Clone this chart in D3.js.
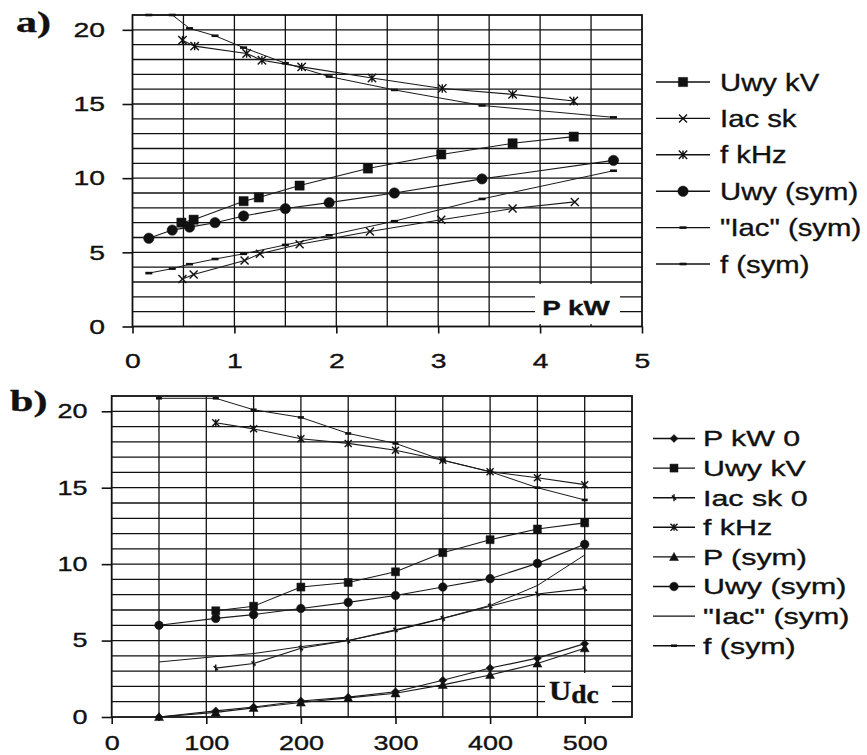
<!DOCTYPE html>
<html>
<head>
<meta charset="utf-8">
<script src="https://cdn.jsdelivr.net/npm/d3@7"></script>
<style>
  body { margin: 0; background: #fff; }
  svg { display: block; }
  text { font-family: "Liberation Sans", Arial, sans-serif; fill: #111; stroke: #111; stroke-width: 0.35; }
  text.serif { font-family: "Liberation Serif", "Times New Roman", serif; font-weight: bold; }
</style>
</head>
<body>
<svg id="chart" width="867" height="755"></svg>
<script>
// ---- panel a: x = P kW
const aUwyKvX = [0.48, 0.6, 1.09, 1.24, 1.64, 2.31, 3.03, 3.73, 4.33];
const aUwyKvY = [7.0, 7.2, 8.45, 8.7, 9.5, 10.65, 11.6, 12.35, 12.8];
const aIacSkX = [0.49, 0.6, 1.1, 1.25, 1.64, 2.33, 3.03, 3.73, 4.34];
const aIacSkY = [3.2, 3.5, 4.45, 4.9, 5.55, 6.4, 7.2, 7.95, 8.4];
const aFkHzX = [0.49, 0.61, 1.12, 1.27, 1.66, 2.35, 3.04, 3.73, 4.33];
const aFkHzY = [19.3, 18.9, 18.4, 17.95, 17.5, 16.75, 16.05, 15.65, 15.2];
const aSymX = [0.16, 0.39, 0.56, 0.81, 1.09, 1.5, 1.93, 2.57, 3.43, 4.72];
const aUwySymY = [5.95, 6.5, 6.7, 7.0, 7.45, 7.95, 8.35, 9.0, 9.95, 11.2];
const aIacSymY = [3.6, 3.9, 4.2, 4.55, 4.9, 5.5, 6.15, 7.1, 8.6, 10.5];
const aFSymY = [21, 21, 20.1, 19.6, 18.8, 17.75, 16.85, 15.95, 14.9, 14.1];
const aLegend = ["Uwy kV", "Iac sk", "f kHz", "Uwy (sym)", "\"Iac\" (sym)", "f (sym)"];
const aXTicks = [0, 1, 2, 3, 4, 5];

// ---- panel b: x = Udc
const bSymX = [50, 110, 150, 200, 250, 300, 350, 400, 450, 500];
const bPkw0Y = [0, 0.4, 0.65, 1.05, 1.3, 1.65, 2.4, 3.2, 3.85, 4.8];
const bPSymY = [0, 0.3, 0.6, 0.95, 1.25, 1.55, 2.1, 2.75, 3.5, 4.5];
const bUwySymY = [6.0, 6.45, 6.7, 7.1, 7.5, 7.95, 8.5, 9.05, 10.05, 11.3];
const bIacSymY = [3.6, 3.95, 4.15, 4.6, 5.0, 5.65, 6.45, 7.3, 8.6, 10.6];
const bFSymY = [20.85, 20.85, 20.1, 19.6, 18.55, 17.9, 16.8, 16.05, 15.0, 14.2];
const bMeasX = [110, 150, 200, 250, 300, 350, 400, 450, 500];
const bUwyKvY = [6.95, 7.25, 8.5, 8.8, 9.5, 10.75, 11.6, 12.3, 12.7];
const bIacSk0Y = [3.2, 3.5, 4.5, 5.0, 5.7, 6.45, 7.25, 8.05, 8.4];
const bFkHzY = [19.25, 18.85, 18.2, 17.9, 17.45, 16.8, 16.05, 15.65, 15.2];
const bLegend = ["P kW 0", "Uwy kV", "Iac sk 0", "f kHz", "P (sym)", "Uwy (sym)", "\"Iac\" (sym)", "f (sym)"];
const bXTicks = [0, 100, 200, 300, 400, 500];

const yTicks = [0, 5, 10, 15, 20];

const svg = d3.select("#chart");

// marker shapes, centred on 0,0
function markerPath(type, r) {
  switch (type) {
    case "square": return `M${-r},${-r}h${2 * r}v${2 * r}h${-2 * r}Z`;
    case "circle": return d3.symbol(d3.symbolCircle, Math.PI * r * r)();
    case "diamond": return `M0,${-r}L${r},0L0,${r}L${-r},0Z`;
    case "triangle": return `M0,${-r}L${r},${r * 0.8}L${-r},${r * 0.8}Z`;
    case "x": return `M${-r},${-r}L${r},${r}M${-r},${r}L${r},${-r}`;
    case "star": return `M${-r},${-r}L${r},${r}M${-r},${r}L${r},${-r}M0,${-r}V${r}`;
    case "tick": return `M0,${-r}V${r}M${-r * 0.6},${-r * 0.6}L${r * 0.6},${r * 0.6}`;
    case "dash": return `M${-r},0H${r}`;
  }
  return "";
}
const filled = t => ["square", "circle", "diamond", "triangle"].includes(t);

function drawMarker(g, type, r, cx, cy) {
  if (!type) return;
  g.append("path")
    .attr("d", markerPath(type, r))
    .attr("transform", `translate(${cx},${cy})`)
    .attr("fill", filled(type) ? "#111" : "none")
    .attr("stroke", "#111")
    .attr("stroke-width", type == "dash" ? 2.6 : filled(type) ? 0.5 : 1.4);
}

// stretched text helper (the scanned figure is wider than it is tall)
function sText(g, str, x, y, size, sx, anchor, extra) {
  const t = g.append("text")
    .attr("transform", `translate(${x},${y}) scale(${sx},1)`)
    .attr("font-size", size)
    .attr("text-anchor", anchor || "start")
    .text(str);
  if (extra) extra(t);
  return t;
}

function drawPanel(p) {
  const g = svg.append("g");
  const x = p.x, y = p.y;
  const [x0, x1] = x.range(), [y0, y1] = y.range();

  // grid
  g.selectAll(".vg").data(p.xGrid).join("line")
    .attr("x1", d => x(d)).attr("x2", d => x(d))
    .attr("y1", y0).attr("y2", y1)
    .attr("stroke", "#111").attr("stroke-width", 1.3);
  g.selectAll(".hg").data(d3.range(1, 21)).join("line")
    .attr("x1", x0).attr("x2", x1)
    .attr("y1", d => y(d)).attr("y2", d => y(d))
    .attr("stroke", "#111").attr("stroke-width", 1.3);

  // white label box that cuts the grid
  const bx = p.box;
  g.append("rect").attr("x", bx[0]).attr("y", bx[1]).attr("width", bx[2]).attr("height", bx[3])
    .attr("fill", "#fff");

  g.append("rect")
    .attr("x", x0).attr("y", y1).attr("width", x1 - x0).attr("height", y0 - y1)
    .attr("fill", "none").attr("stroke", "#111").attr("stroke-width", 1.8);

  // axes
  const xAxis = g.append("g").attr("transform", `translate(0,${y0})`)
    .call(d3.axisBottom(x).tickValues(p.xTicks).tickSize(7).tickPadding(p.xPad).tickFormat(d3.format("d")));
  const yAxis = g.append("g").attr("transform", `translate(${x0},0)`)
    .call(d3.axisLeft(y).tickValues(yTicks).tickSize(10).tickFormat(d3.format("d")));
  [xAxis, yAxis].forEach(a => {
    a.select(".domain").remove();
    a.selectAll("line").attr("stroke", "#111").attr("stroke-width", 1.6);
    a.selectAll("text").attr("font-size", p.tickSize).attr("fill", "#111");
  });
  xAxis.selectAll("text").attr("transform", "scale(1.35,1)");
  yAxis.selectAll("text").attr("x", p.yLabX / 1.35).attr("transform", "scale(1.35,1)");

  // series
  const line = d3.line().x(d => x(d[0])).y(d => y(d[1]));
  p.series.forEach(s => {
    const pts = s.xs.map((v, i) => [v, s.ys[i]]);
    g.append("path").datum(pts)
      .attr("d", line)
      .attr("fill", "none")
      .attr("stroke", "#1a1a1a")
      .attr("stroke-width", s.w || 1.1);
    const mg = g.append("g");
    pts.forEach(d => drawMarker(mg, s.marker, s.r, x(d[0]), y(d[1])));
  });

  // legend
  const lg = svg.append("g");
  p.series.forEach((s, i) => {
    const ly = p.legY + i * p.legStep;
    lg.append("line").attr("x1", p.legX[0]).attr("x2", p.legX[1])
      .attr("y1", ly).attr("y2", ly).attr("stroke", "#111").attr("stroke-width", 1.4);
    drawMarker(lg, s.marker, s.r, (p.legX[0] + p.legX[1]) / 2, ly);
    sText(lg, s.name, p.legX[1] + p.legGap, ly, p.legSize, p.legSx, "start",
      t => t.attr("dy", "0.36em"));
  });
  return g;
}

// ---------------- panel a
const xA = d3.scaleLinear().domain([0, 5]).range([132.5, 642]);
const yA = d3.scaleLinear().domain([0, 21]).range([326.5, 15]);
const gA = drawPanel({
  x: xA, y: yA,
  xGrid: d3.range(0.5, 5, 0.5),
  xTicks: aXTicks, xPad: 20, yLabX: -27.5, tickSize: 21,
  box: [535, 284, 85, 40],
  legX: [656, 710], legGap: 10, legY: 82, legStep: 36.4, legSize: 24, legSx: 1.22,
  series: [
    { name: aLegend[0], xs: aUwyKvX, ys: aUwyKvY, marker: "square", r: 4.6 },
    { name: aLegend[1], xs: aIacSkX, ys: aIacSkY, marker: "x", r: 4 },
    { name: aLegend[2], xs: aFkHzX, ys: aFkHzY, marker: "star", r: 4.2 },
    { name: aLegend[3], xs: aSymX, ys: aUwySymY, marker: "circle", r: 5.2 },
    { name: aLegend[4], xs: aSymX, ys: aIacSymY, marker: "dash", r: 3.5, w: 1 },
    { name: aLegend[5], xs: aSymX, ys: aFSymY, marker: "dash", r: 3.5, w: 1 }
  ]
});
sText(gA, "P kW", 576, 315, 20, 1.39, "middle", t => t.attr("font-weight", "bold"));
sText(svg, "a)", 16, 32, 29, 1.45, "start", t => t.attr("class", "serif"));

// ---------------- panel b
const xB = d3.scaleLinear().domain([0, 550]).range([111.7, 632]);
const yB = d3.scaleLinear().domain([0, 21]).range([717, 396]);
const gB = drawPanel({
  x: xB, y: yB,
  xGrid: d3.range(50, 550, 50),
  xTicks: bXTicks, xPad: 12, yLabX: -24.2, tickSize: 20,
  box: [545, 673, 67, 43],
  legX: [653, 695], legGap: 8, legY: 438.5, legStep: 29.6, legSize: 22, legSx: 1.38,
  series: [
    { name: bLegend[0], xs: bSymX, ys: bPkw0Y, marker: "diamond", r: 4 },
    { name: bLegend[1], xs: bMeasX, ys: bUwyKvY, marker: "square", r: 4 },
    { name: bLegend[2], xs: bMeasX, ys: bIacSk0Y, marker: "tick", r: 3.5 },
    { name: bLegend[3], xs: bMeasX, ys: bFkHzY, marker: "star", r: 3.5 },
    { name: bLegend[4], xs: bSymX, ys: bPSymY, marker: "triangle", r: 4.5 },
    { name: bLegend[5], xs: bSymX, ys: bUwySymY, marker: "circle", r: 4.3 },
    { name: bLegend[6], xs: bSymX, ys: bIacSymY, marker: null, r: 3, w: 1 },
    { name: bLegend[7], xs: bSymX, ys: bFSymY, marker: "dash", r: 3, w: 1 }
  ]
});
const udc = gB.append("text")
  .attr("class", "serif")
  .attr("transform", "translate(549,700) scale(1.1,1)")
  .attr("font-size", 28);
udc.append("tspan").text("U");
udc.append("tspan").attr("dy", 3).attr("font-size", 25).text("dc");
sText(svg, "b)", 10, 411, 29, 1.45, "start", t => t.attr("class", "serif"));
</script>
</body>
</html>
